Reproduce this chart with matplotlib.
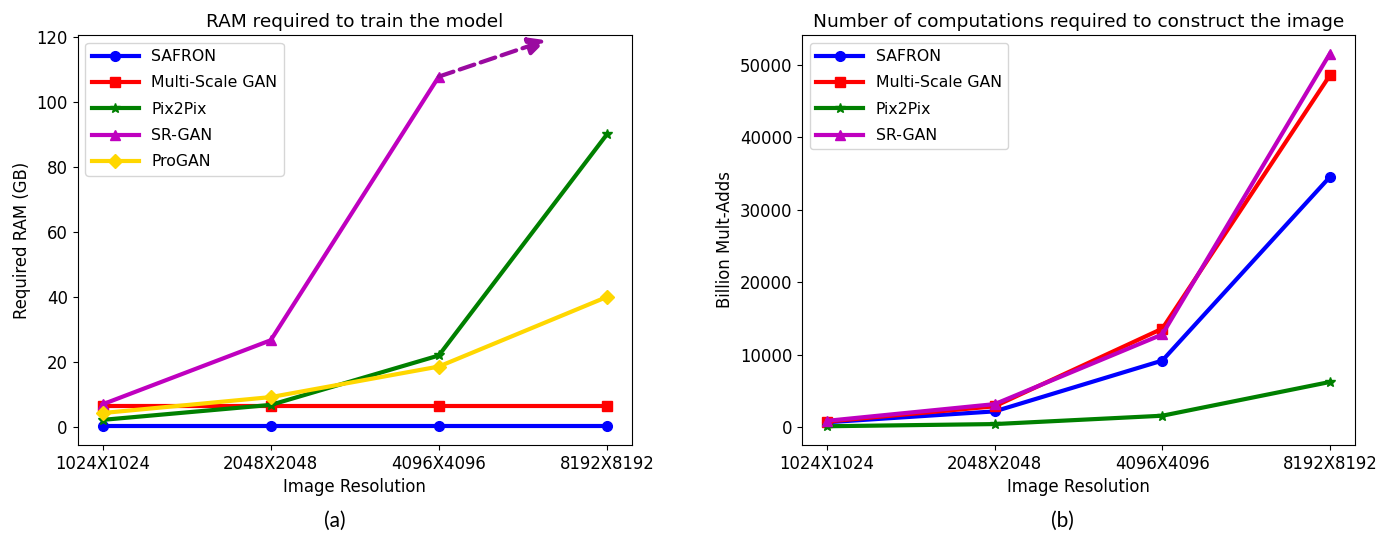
import numpy as np
import matplotlib.pyplot as plt

resolutions = ['1024X1024', '2048X2048', '4096X4096', '8192X8192']

# (a) RAM in GB
ram_safron = [0.3, 0.3, 0.3, 0.3]
ram_msgan = [6.6, 6.6, 6.6, 6.6]
ram_pix2pix = [2.2, 6.8, 22.0, 90.0]
ram_srgan = [7.0, 26.7, 107.8, np.nan]   # off the chart at 8192
ram_progan = [4.3, 9.2, 18.6, 40.0]

# (b) billion mult-adds
ops_safron = [700, 2200, 9200, 34500]
ops_msgan = [800, 2900, 13600, 48500]
ops_pix2pix = [150, 450, 1600, 6250]
ops_srgan = [900, 3200, 12800, 51500]

styles = {
    'SAFRON': dict(color='b', marker='o'),
    'Multi-Scale GAN': dict(color='r', marker='s'),
    'Pix2Pix': dict(color='g', marker='*'),
    'SR-GAN': dict(color='m', marker='^'),
    'ProGAN': dict(color='gold', marker='D'),
}

plt.rcParams['font.family'] = ['DejaVu Sans']
fig = plt.figure(figsize=(13.9, 5.36), dpi=100)
ax1 = fig.add_axes([0.0558, 0.170, 0.3989, 0.7647])
ax2 = fig.add_axes([0.577, 0.170, 0.3978, 0.7647])

x = np.arange(len(resolutions))
fs = 11.9
title_fs = 13.3
leg_kw = dict(loc='upper left', fontsize=11.3, labelspacing=0.72, handlelength=3.0)

series_a = [('SAFRON', ram_safron), ('Multi-Scale GAN', ram_msgan), ('Pix2Pix', ram_pix2pix),
            ('SR-GAN', ram_srgan), ('ProGAN', ram_progan)]
for name, vals in series_a:
    ax1.plot(x, vals, label=name, linewidth=3, markersize=7, **styles[name])

# dashed arrow showing SR-GAN going off the chart
ax1.annotate('', xy=(2.64, 119), xytext=(x[2], ram_srgan[2]),
             arrowprops=dict(arrowstyle='-|>', linestyle='--', lw=3,
                             color='#9a0aa0', mutation_scale=26, shrinkA=0, shrinkB=0))

ax1.set_xlim(-0.15, 3.15)
ax1.set_ylim(-5.5, 120.6)
ax1.set_xticks(x)
ax1.set_xticklabels(resolutions, fontsize=fs)
ax1.tick_params(axis='y', labelsize=fs)
ax1.set_yticks([0, 20, 40, 60, 80, 100, 120])
ax1.set_xlabel('Image Resolution', fontsize=fs)
ax1.set_ylabel('Required RAM (GB)', fontsize=fs)
ax1.set_title('RAM required to train the model', fontsize=title_fs)
ax1.legend(**leg_kw)

series_b = [('SAFRON', ops_safron), ('Multi-Scale GAN', ops_msgan), ('Pix2Pix', ops_pix2pix),
            ('SR-GAN', ops_srgan)]
for name, vals in series_b:
    ax2.plot(x, vals, label=name, linewidth=3, markersize=7, **styles[name])

ax2.set_xticks(x)
ax2.set_xticklabels(resolutions, fontsize=fs)
ax2.tick_params(axis='y', labelsize=fs)
ax2.set_xlabel('Image Resolution', fontsize=fs)
ax2.set_ylabel('Billion Mult-Adds', fontsize=fs)
ax2.set_title('Number of computations required to construct the image', fontsize=title_fs)
ax2.legend(**leg_kw)

fig.text(0.241, 0.028, '(a)', fontsize=15, ha='center', va='center', family=['Lato', 'DejaVu Sans'])
fig.text(0.764, 0.028, '(b)', fontsize=15, ha='center', va='center', family=['Lato', 'DejaVu Sans'])

fig.savefig('out.png', dpi=100)
